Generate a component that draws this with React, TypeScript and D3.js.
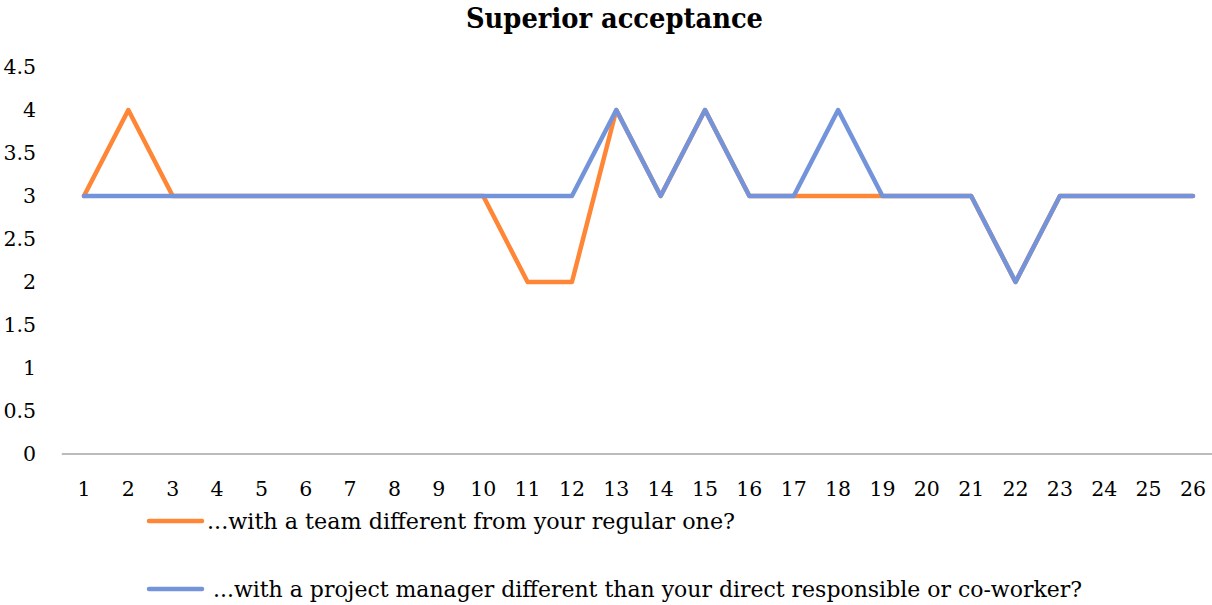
import React from "react";
import * as d3 from "d3";

const categories: number[] = Array.from({ length: 26 }, (_, i) => i + 1);
const teamValues: number[] = [3, 4, 3, 3, 3, 3, 3, 3, 3, 3, 2, 2, 4, 3, 4, 3, 3, 3, 3, 3, 3, 2, 3, 3, 3, 3];
const managerValues: number[] = [3, 3, 3, 3, 3, 3, 3, 3, 3, 3, 3, 3, 4, 3, 4, 3, 3, 4, 3, 3, 3, 2, 3, 3, 3, 3];
const yTicks: number[] = [0, 0.5, 1, 1.5, 2, 2.5, 3, 3.5, 4, 4.5];
const yTickLabels: string[] = ["0", "0.5", "1", "1.5", "2", "2.5", "3", "3.5", "4", "4.5"];
const seriesNames: string[] = [
  "...with a team different from your regular one?",
  "...with a project manager different than your direct responsible or co-worker?",
];
const title = "Superior acceptance";

const W = 1212;
const H = 605;
const FONT = "'DejaVu Serif', serif";
const ORANGE = "#FF8636";
const BLUE = "#7394DA";

export default function App() {
  const x = d3
    .scaleBand<number>()
    .domain(categories)
    .range([61.8, 61.8 + 26 * 44.36])
    .paddingInner(0)
    .paddingOuter(0);
  const y = d3.scaleLinear().domain([0, 4.5]).range([454, 67]);
  const cx = (c: number) => (x(c) as number) + x.bandwidth() / 2;

  const line = d3
    .line<number>()
    .x((_, i) => cx(categories[i]))
    .y((v) => y(v));

  const series = [
    { name: seriesNames[0], values: teamValues, color: ORANGE },
    { name: seriesNames[1], values: managerValues, color: BLUE },
  ];

  const legend = [
    { y: 521, textX: 207, textLen: 528 },
    { y: 589, textX: 213, textLen: 869 },
  ];

  return (
    <svg width={W} height={H} style={{ display: "block", position: "absolute", left: 0, top: 0 }}>
      <rect x={0} y={0} width={W} height={H} fill="#ffffff" />
      <text
        x={614.5}
        y={28}
        textAnchor="middle"
        fontFamily={FONT}
        fontWeight="bold"
        fontSize={27}
        fill="#000"
        textLength={297}
        lengthAdjust="spacingAndGlyphs"
      >
        {title}
      </text>
      {yTicks.map((t, i) => (
        <text
          key={t}
          x={36}
          y={y(t)}
          dy="0.36em"
          textAnchor="end"
          fontFamily={FONT}
          fontSize={20.5}
          fill="#000"
        >
          {yTickLabels[i]}
        </text>
      ))}
      <line x1={61.8} x2={W} y1={y(0)} y2={y(0)} stroke="#A6A6A6" strokeWidth={1.5} />
      {categories.map((c) => (
        <text
          key={c}
          x={cx(c)}
          y={496}
          textAnchor="middle"
          fontFamily={FONT}
          fontSize={20.5}
          fill="#000"
        >
          {c}
        </text>
      ))}
      {series.map((s) => (
        <path
          key={s.name}
          d={line(s.values) || ""}
          fill="none"
          stroke={s.color}
          strokeWidth={4.5}
          strokeLinejoin="round"
          strokeLinecap="round"
        />
      ))}
      {series.map((s, i) => (
        <g key={"lg" + i}>
          <line
            x1={149}
            x2={202}
            y1={legend[i].y}
            y2={legend[i].y}
            stroke={s.color}
            strokeWidth={4.5}
            strokeLinecap="round"
          />
          <text
            x={legend[i].textX}
            y={legend[i].y}
            dy="0.36em"
            fontFamily={FONT}
            fontSize={22}
            fill="#000"
            textLength={legend[i].textLen}
            lengthAdjust="spacingAndGlyphs"
          >
            {s.name}
          </text>
        </g>
      ))}
    </svg>
  );
}
